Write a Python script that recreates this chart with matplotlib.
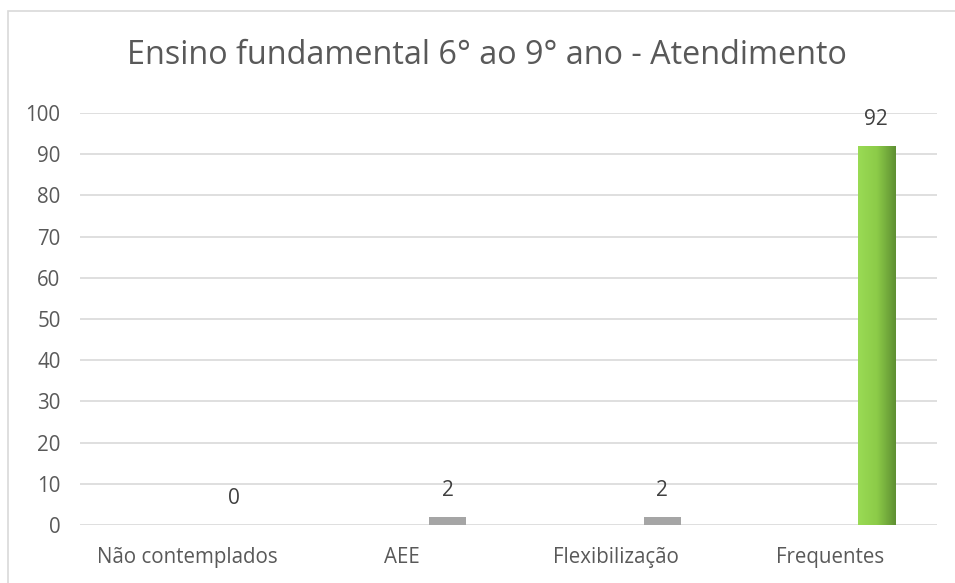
import numpy as np
import matplotlib
matplotlib.use('Agg')
import matplotlib.pyplot as plt
from matplotlib.patches import Rectangle
from matplotlib.colors import LinearSegmentedColormap

plt.rcParams['font.family'] = ['Open Sans', 'DejaVu Sans']

# Dados
categorias = ['Não contemplados', 'AEE', 'Flexibilização', 'Frequentes']
valores = [0, 2, 2, 92]
cores = ['#A5A5A5', '#A5A5A5', '#A5A5A5', 'gradient']
yticks = list(range(0, 101, 10))

fig = plt.figure(figsize=(9.55, 5.83), dpi=100)
ax = fig.add_axes([80 / 955, 1 - 525 / 583, 857 / 955, 412 / 583])

x = np.arange(len(categorias))
offset = 0.217
largura = 0.173

verde = LinearSegmentedColormap.from_list('verde', ['#9ADB55', '#8CCB48', '#5E8F32'])

for xi, v, c in zip(x, valores, cores):
    xc = xi + offset
    if c == 'gradient':
        bar = ax.bar(xc, v, width=largura, color='none', edgecolor='none', zorder=3)[0]
        grad = np.linspace(0, 1, 256).reshape(1, -1)
        im = ax.imshow(grad, cmap=verde, aspect='auto', zorder=3,
                       extent=[xc - largura / 2, xc + largura / 2, 0, v])
        im.set_clip_path(bar)
    else:
        ax.bar(xc, v, width=largura, color=c, edgecolor='none', zorder=3)
    ax.text(xc, v + 3.8, str(v), ha='center', va='bottom', fontsize=15, color='#404040')

ax.set_xlim(-0.5, len(categorias) - 0.5)
ax.set_ylim(0, 100)
ax.set_yticks(yticks)
ax.set_xticks(x)
ax.set_xticklabels(categorias)
ax.tick_params(axis='both', length=0, labelsize=14.8, labelcolor='#595959')
ax.tick_params(axis='x', pad=16)
ax.tick_params(axis='y', pad=14)
ax.grid(axis='y', color='#D9D9D9', linewidth=1.2, zorder=0)
ax.set_axisbelow(True)
for s in ax.spines.values():
    s.set_visible(False)

fig.text(487 / 955, 1 - 55 / 583, 'Ensino fundamental 6° ao 9° ano - Atendimento',
         ha='center', va='center', fontsize=23.3, color='#595959')

# moldura do gráfico
fig.patches.append(Rectangle((8 / 955, -0.1), 1.2, 1 - 11 / 583 + 0.1,
                             transform=fig.transFigure, fill=False,
                             edgecolor='#D9D9D9', linewidth=1.2))

fig.savefig('out.png', dpi=100)
